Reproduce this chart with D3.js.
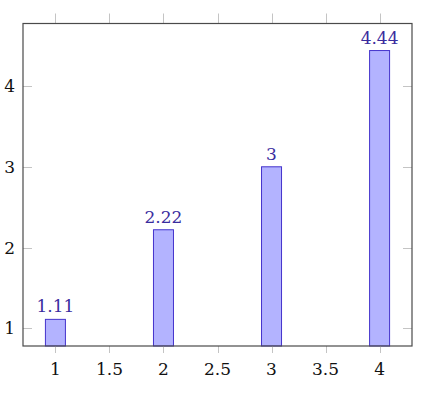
<!DOCTYPE html>
<html>
<head>
<meta charset="utf-8">
<script src="https://cdn.jsdelivr.net/npm/d3@7"></script>
<style>
  body { margin: 0; background: #fff; }
</style>
</head>
<body>
<svg id="chart" width="429" height="394"></svg>
<script>
// data
var categories = [1, 2, 3, 4];
var values = [1.11, 2.22, 3, 4.44];
var labels = ["1.11", "2.22", "3", "4.44"];
var xTicks = [1, 1.5, 2, 2.5, 3, 3.5, 4];
var yTicks = [1, 2, 3, 4];

var svg = d3.select("#chart")
	.attr("font-family", "'DejaVu Serif', 'Liberation Serif', serif");

// plot box (window.top is reserved, so boxTop etc.)
var boxLeft = 23, boxRight = 412, boxTop = 23.5, boxBottom = 346;

var x = d3.scaleLinear().domain([0.7, 4.3]).range([boxLeft, boxRight]);
var y = d3.scaleLinear().domain([0.78, 4.775]).range([boxBottom, boxTop]);

var barW = 20;
var tickCol = "#c4c4c4";
var fontSize = 17;

// bars
svg.append("g").selectAll("rect")
	.data(values)
	.enter().append("rect")
	.attr("x", function(d, i) { return x(categories[i]) - barW / 2; })
	.attr("y", function(d) { return y(d); })
	.attr("width", barW)
	.attr("height", function(d) { return boxBottom - y(d); })
	.attr("fill", "#b3b3ff")
	.attr("stroke", "#4433cc")
	.attr("stroke-width", 1);

// value labels
svg.append("g").selectAll("text")
	.data(values)
	.enter().append("text")
	.attr("x", function(d, i) { return x(categories[i]); })
	.attr("y", function(d) { return y(d) - 7; })
	.attr("text-anchor", "middle")
	.attr("font-size", fontSize)
	.attr("fill", "#3a2c9e")
	.text(function(d, i) { return labels[i]; });

// ticks: x ticks stick out, y ticks point in
var ticks = svg.append("g").attr("stroke", tickCol).attr("stroke-width", 1);
xTicks.forEach(function(t)
{
	var px = Math.round(x(t)) + 0.5;
	ticks.append("line").attr("x1", px).attr("x2", px).attr("y1", boxBottom).attr("y2", boxBottom + 7);
	ticks.append("line").attr("x1", px).attr("x2", px).attr("y1", boxTop).attr("y2", boxTop - 10);
});
yTicks.forEach(function(t)
{
	var py = Math.round(y(t)) + 0.5;
	ticks.append("line").attr("x1", boxLeft).attr("x2", boxLeft + 9).attr("y1", py).attr("y2", py);
	ticks.append("line").attr("x1", boxRight).attr("x2", boxRight - 9).attr("y1", py).attr("y2", py);
});

// axis box
svg.append("rect")
	.attr("x", boxLeft)
	.attr("y", boxTop)
	.attr("width", boxRight - boxLeft)
	.attr("height", boxBottom - boxTop)
	.attr("fill", "none")
	.attr("stroke", "#4a4a4a")
	.attr("stroke-width", 1.2);

// tick labels
svg.append("g").selectAll("text")
	.data(xTicks)
	.enter().append("text")
	.attr("x", function(d) { return x(d); })
	.attr("y", 375)
	.attr("text-anchor", "middle")
	.attr("font-size", fontSize)
	.attr("fill", "#111")
	.text(function(d) { return String(d); });

svg.append("g").selectAll("text")
	.data(yTicks)
	.enter().append("text")
	.attr("x", 15)
	.attr("y", function(d) { return y(d) + 6; })
	.attr("text-anchor", "end")
	.attr("font-size", fontSize)
	.attr("fill", "#111")
	.text(function(d) { return String(d); });
</script>
</body>
</html>
